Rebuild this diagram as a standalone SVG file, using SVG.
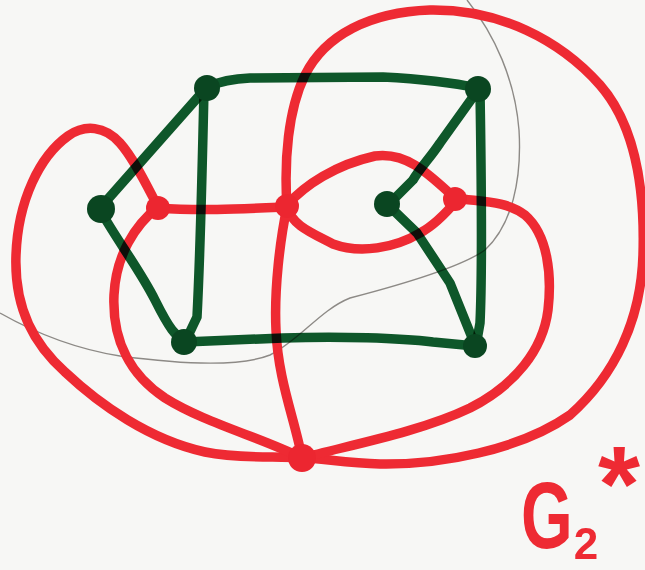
<svg xmlns="http://www.w3.org/2000/svg" width="645" height="570" viewBox="0 0 645 570">
<style>
.red{fill:none;stroke:#ee2a33;stroke-width:9.5;stroke-linecap:round;stroke-linejoin:round}
.grn{fill:none;stroke:#0e5a2b;stroke-width:9.5;stroke-linecap:round;stroke-linejoin:round;mix-blend-mode:multiply}
.gv{fill:#0a4621}
.rv{fill:#ec2630}
.pencil{fill:none;stroke:#8d8a86;stroke-width:1.4}
.lbl{fill:#ee2a33;font-family:"Liberation Sans",Arial,sans-serif;font-weight:bold}
</style>
<rect width="645" height="570" fill="#f7f7f5"/>
<path class="pencil" d="M467,0 C495,35 515,80 519,130 C522,180 512,225 485,250 C460,268 400,285 350,298 C320,310 300,340 270,355 C240,367 180,364 120,356 C70,348 30,330 0,313"/>
<g id="dual-edges">
<path class="red" d="M158,208 C200,211 240,209 287,207"/>
<path class="red" d="M158,207 C148,188 135,160 120,143 C105,126 85,124 68,136 C40,156 18,200 16,255 C14,310 35,345 65,372 C100,405 150,440 205,452 C240,459 275,456 302,458"/>
<path class="red" d="M158,207 C135,225 116,255 114,295 C112,340 130,375 165,398 C205,423 260,437 302,458"/>
<path class="red" d="M287,207 C280,240 274,290 276,330 C278,380 295,420 302,458"/>
<path class="red" d="M287,207 C284,160 288,110 305,75 C325,35 370,12 430,10 C500,9 560,40 600,85 C635,125 645,190 643,255 C641,320 615,375 570,415 C520,450 440,465 380,464 C345,463 320,458 302,458"/>
<path class="red" d="M455,198 C480,202 505,200 525,215 C548,235 552,275 548,310 C543,350 515,385 470,408 C420,432 350,445 302,458"/>
<path class="red" d="M287,205 C305,185 335,165 375,156 C405,152 425,170 457,200"/>
<path class="red" d="M287,207 C292,225 310,232 333,244 C360,254 395,248 420,233 C435,225 447,212 457,200"/>
</g>
<g id="R1"><circle class="rv" cx="158" cy="208" r="12"/></g>
<g id="R2"><circle class="rv" cx="287" cy="206" r="12"/></g>
<g id="R3"><circle class="rv" cx="455" cy="199" r="12"/></g>
<g id="R4"><circle class="rv" cx="302" cy="458" r="14"/></g>
<g id="primal-edges">
<path class="grn" d="M207,87 Q225,79 250,78 L383,77 Q440,80 478,88"/>
<path class="grn" d="M207,87 L100,208"/>
<path class="grn" d="M204,90 C202,180 200,260 197,317 L187,338"/>
<path class="grn" d="M100,210 C120,245 140,270 155,300 S175,335 185,342"/>
<path class="grn" d="M185,342 L283,338 C340,336 400,338 433,342 L475,346"/>
<path class="grn" d="M480,90 C481,160 483,260 480,323 L476,346"/>
<path class="grn" d="M478,90 L440,143 C430,158 420,168 413,180 L388,205"/>
<path class="grn" d="M388,205 L417,233 L450,283 L475,345"/>
</g>
<g id="A"><circle class="gv" cx="207" cy="88" r="13"/></g>
<g id="B"><circle class="gv" cx="478" cy="89" r="13"/></g>
<g id="C"><circle class="gv" cx="101" cy="209" r="14"/></g>
<g id="D"><circle class="gv" cx="387" cy="204" r="13"/></g>
<g id="E"><circle class="gv" cx="184" cy="342" r="13"/></g>
<g id="F"><circle class="gv" cx="475" cy="346" r="12"/></g>
<g id="label">
<text class="lbl" x="0" y="0" font-size="95" transform="translate(521,548) scale(0.7,1)">G</text>
<text class="lbl" x="619" y="521" font-size="108" text-anchor="middle">*</text>
<text class="lbl" x="586" y="559" font-size="44" text-anchor="middle">2</text>
</g>
</svg>
